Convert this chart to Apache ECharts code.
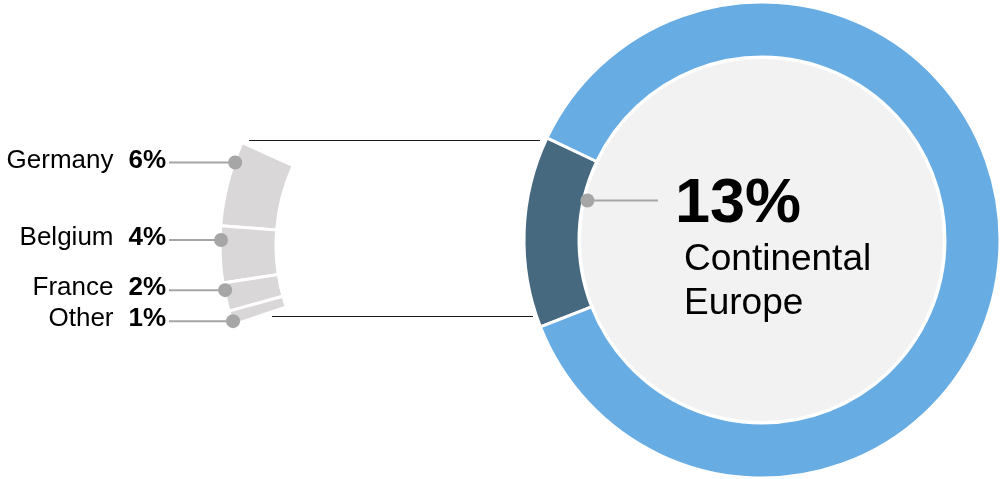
<!DOCTYPE html>
<html>
<head>
<meta charset="utf-8">
<style>
  html, body { margin: 0; padding: 0; background: #fff; }
  #chart-container { width: 1003px; height: 479px; }
</style>
<script src="https://cdn.jsdelivr.net/npm/echarts@6/dist/echarts.min.js"></script>
</head>
<body>
<div id="chart-container"></div>
<script>
// data
var regionNames = ['Continental Europe', 'Rest of portfolio'];
var regionValues = [13, 87];
var countryNames = ['Germany', 'Belgium', 'France', 'Other'];
var countryValues = [6, 4, 2, 1];

// layout
var mainCenter = [762, 240];
var mainRadius = [183, 238];
var mainStart = 201.4;
var detailCenter = [468, 245];
var detailRadius = [192, 248];
var detailStart = 155.6;
var detailEnd = 198.8;
var font = '"Liberation Sans", Arial, sans-serif';
var dotColor = '#a6a6a6';

var dom = document.getElementById('chart-container');
var myChart = echarts.init(dom, null, { renderer: 'canvas' });

function pt(c, r, deg) {
  var a = deg * Math.PI / 180;
  return [c[0] + r * Math.cos(a), c[1] - r * Math.sin(a)];
}

var graphics = [];

// inner disc of the main ring
graphics.push({
  type: 'circle', z: 1,
  shape: { cx: mainCenter[0], cy: mainCenter[1], r: 181 },
  style: { fill: '#f2f2f2' }
});

// connector lines between the ring and the breakdown
graphics.push({
  type: 'line', z: 100,
  shape: { x1: 249, y1: 140.5, x2: 540, y2: 140.5 },
  style: { stroke: '#1a1a1a', lineWidth: 1 }
});
graphics.push({
  type: 'line', z: 100,
  shape: { x1: 272, y1: 316.5, x2: 533, y2: 316.5 },
  style: { stroke: '#1a1a1a', lineWidth: 1 }
});

// main callout
var mainSpan = regionValues[0] / (regionValues[0] + regionValues[1]) * 360;
var mainAnchor = pt(mainCenter, mainRadius[0] - 4, mainStart - mainSpan + mainSpan * 0.27);
graphics.push({
  type: 'line', z: 100,
  shape: { x1: mainAnchor[0], y1: mainAnchor[1], x2: 658, y2: mainAnchor[1] },
  style: { stroke: dotColor, lineWidth: 2 }
});
graphics.push({
  type: 'circle', z: 101,
  shape: { cx: mainAnchor[0], cy: mainAnchor[1], r: 7 },
  style: { fill: dotColor }
});
graphics.push({
  type: 'text', z: 101,
  x: 675, y: mainAnchor[1] + 4,
  style: {
    text: regionValues[0] + '%',
    font: 'bold 63px ' + font,
    fill: '#000',
    verticalAlign: 'middle'
  }
});
graphics.push({
  type: 'text', z: 101,
  x: 684, y: mainAnchor[1] + 81,
  style: {
    text: regionNames[0].replace(' ', '\n'),
    font: '37px ' + font,
    lineHeight: 44,
    fill: '#000',
    verticalAlign: 'middle'
  }
});

// breakdown labels
var total = countryValues.reduce(function (s, v) { return s + v; }, 0);
var unit = (detailEnd - detailStart) / total;
var cum = 0;
var prevY = -Infinity;
countryValues.forEach(function (v, i) {
  var a = detailStart + (cum + v * 0.25) * unit;
  cum += v;
  var y = pt(detailCenter, detailRadius[1], a)[1];
  if (y - prevY < 31) y = prevY + 31;
  prevY = y;
  var dy = y - detailCenter[1];
  var r = 247;
  var x = detailCenter[0] - Math.sqrt(r * r - dy * dy);
  graphics.push({
    type: 'line', z: 100,
    shape: { x1: 169, y1: y, x2: x, y2: y },
    style: { stroke: dotColor, lineWidth: 2 }
  });
  graphics.push({
    type: 'circle', z: 101,
    shape: { cx: x, cy: y, r: 7 },
    style: { fill: dotColor }
  });
  graphics.push({
    type: 'text', z: 101,
    x: 113.5, y: y - 2,
    style: {
      text: countryNames[i],
      font: '26px ' + font,
      fill: '#000',
      align: 'right',
      verticalAlign: 'middle'
    }
  });
  graphics.push({
    type: 'text', z: 101,
    x: 166, y: y - 2,
    style: {
      text: v + '%',
      font: 'bold 26px ' + font,
      fill: '#000',
      align: 'right',
      verticalAlign: 'middle'
    }
  });
});

var option = {
  animation: false,
  backgroundColor: '#fff',
  graphic: { elements: graphics },
  series: [
    {
      type: 'pie',
      silent: true,
      center: mainCenter,
      radius: mainRadius,
      startAngle: mainStart,
      label: { show: false },
      labelLine: { show: false },
      itemStyle: { borderColor: '#fff', borderWidth: 3 },
      data: regionNames.map(function (n, i) {
        return {
          name: n,
          value: regionValues[i],
          itemStyle: { color: i === 0 ? '#46697f' : '#67ace3' }
        };
      })
    },
    {
      type: 'pie',
      silent: true,
      center: detailCenter,
      radius: detailRadius,
      startAngle: detailStart,
      endAngle: detailEnd,
      clockwise: false,
      label: { show: false },
      labelLine: { show: false },
      itemStyle: { color: '#d9d7d8', borderColor: '#fff', borderWidth: 3 },
      data: countryNames.map(function (n, i) {
        return { name: n, value: countryValues[i] };
      })
    }
  ]
};

if (option && typeof option === 'object') {
  myChart.setOption(option);
}

window.addEventListener('resize', myChart.resize);
</script>
</body>
</html>
